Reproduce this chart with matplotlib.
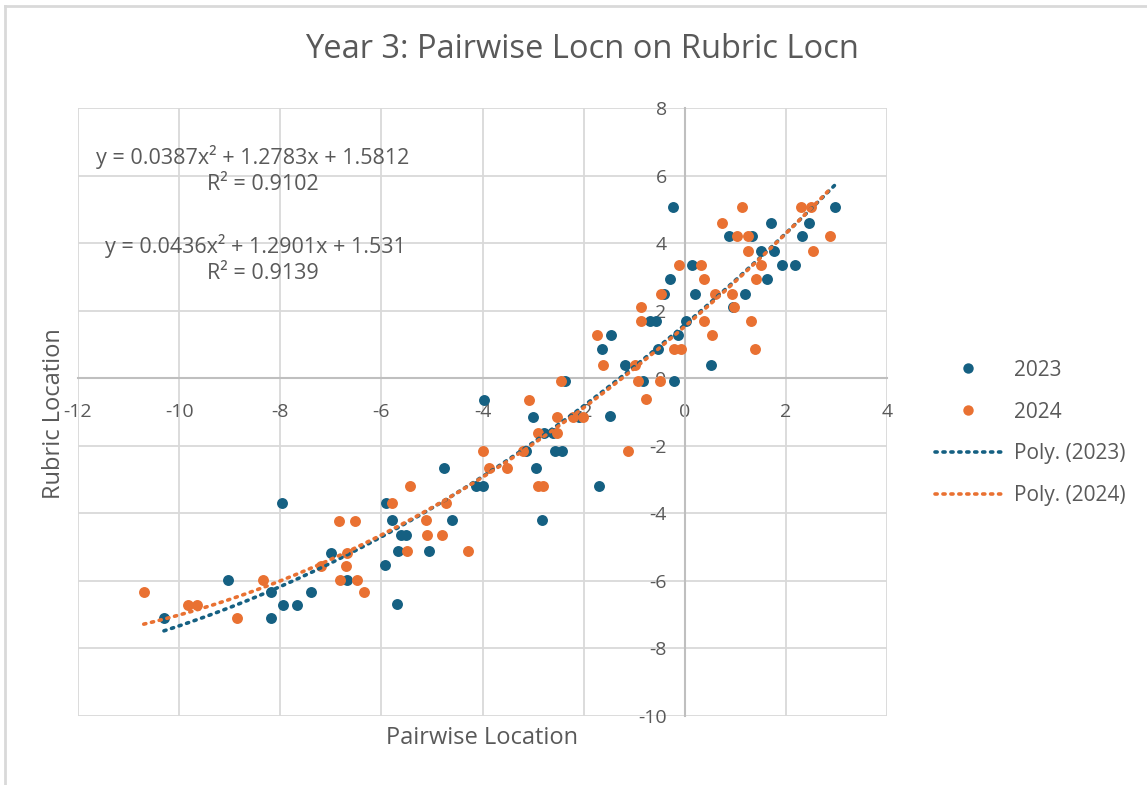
import numpy as np
import matplotlib.pyplot as plt
from matplotlib.lines import Line2D

plt.rcParams['font.family'] = ['Open Sans', 'DejaVu Sans']
plt.rcParams['axes.unicode_minus'] = False

# 2023 points (pairwise location, rubric location)
x_2023 = [-0.23, 1.70, 0.87, 1.33, 2.45, 2.97, 2.31, 1.51, 1.77, 1.92, 2.18, 1.62,
          0.14, -0.30, -0.41, 0.20, 1.20, 0.95, -0.68, -0.56, 0.02, -1.46, -1.64,
          -0.52, -0.14, -1.19, 0.51, -0.22, -0.83, -2.36, -1.48, -3.97, -3.01,
          -2.10, -2.79, -2.60, -3.14, -2.56, -2.42, -4.77, -2.94, -4.13, -4.00,
          -1.70, -5.90, -5.78, -4.60, -2.82, -5.62, -5.52, -5.67, -5.05, -5.93,
          -5.70, -7.97, -7.00, -9.03, -8.19, -7.40, -6.68, -7.94, -7.66, -10.30, -8.19]
y_2023 = [5.07, 4.61, 4.20, 4.20, 4.61, 5.07, 4.20, 3.76, 3.76, 3.34, 3.34, 2.93,
          3.34, 2.93, 2.50, 2.50, 2.50, 2.11, 1.70, 1.70, 1.70, 1.28, 0.86,
          0.86, 1.28, 0.40, 0.40, -0.09, -0.09, -0.09, -1.12, -0.63, -1.14,
          -1.14, -1.63, -1.63, -2.15, -2.15, -2.15, -2.66, -2.66, -3.20, -3.20,
          -3.20, -3.70, -4.21, -4.21, -4.20, -4.65, -4.65, -5.12, -5.12, -5.52,
          -6.67, -3.70, -5.16, -5.96, -6.34, -6.34, -5.96, -6.71, -6.71, -7.09, -7.09]

# 2024 points
x_2024 = [1.13, 2.30, 2.49, 0.73, 1.03, 1.25, 2.87, 1.25, 2.54, 1.51, -0.11, 0.33,
          0.39, 1.41, -0.47, 0.59, 0.94, 0.98, -0.87, -0.87, 0.39, 1.32, -1.74,
          0.54, -0.21, -0.08, 1.38, -1.62, -0.98, -0.92, -0.49, -0.77, -2.45,
          -2.21, -2.02, -3.09, -2.53, -2.91, -2.52, -3.19, -4.00, -1.12, -3.88,
          -3.52, -5.43, -2.91, -2.81, -5.78, -4.73, -5.11, -5.09, -4.80, -5.50,
          -4.29, -6.83, -6.53, -6.68, -7.19, -6.70, -6.81, -6.49, -8.34, -6.34,
          -10.70, -9.82, -9.64, -8.85]
y_2024 = [5.07, 5.07, 5.07, 4.61, 4.20, 4.20, 4.20, 3.76, 3.76, 3.34, 3.34, 3.34,
          2.93, 2.93, 2.50, 2.50, 2.50, 2.11, 2.11, 1.70, 1.70, 1.70, 1.28,
          1.28, 0.86, 0.86, 0.86, 0.40, 0.40, -0.09, -0.09, -0.62, -0.09,
          -1.14, -1.14, -0.63, -1.14, -1.63, -1.63, -2.15, -2.15, -2.15, -2.66,
          -2.66, -3.20, -3.20, -3.20, -3.70, -3.70, -4.21, -4.65, -4.65, -5.12,
          -5.12, -4.22, -4.22, -5.16, -5.56, -5.56, -5.96, -5.96, -5.96, -6.32,
          -6.34, -6.71, -6.71, -7.09]

# trendline coefficients from the chart labels (a, b, c)
poly_2023 = [0.0387, 1.2783, 1.5812]
poly_2024 = [0.0436, 1.2901, 1.531]
r2_2023 = 0.9102
r2_2024 = 0.9139

blue = '#156082'
orange = '#E97132'
grey_txt = '#595959'
dots = (0, (0.6, 1.6))

fig = plt.figure(figsize=(11.47, 7.85), dpi=100)
ax = fig.add_axes([78 / 1147, 1 - 716 / 785, (887 - 78) / 1147, (716 - 108) / 785])

ax.scatter(x_2023, y_2023, s=62, color=blue, zorder=3, linewidths=0)
ax.scatter(x_2024, y_2024, s=62, color=orange, zorder=3, linewidths=0)

# polynomial trendlines over each series' range
xs = np.linspace(min(x_2023), max(x_2023), 200)
ax.plot(xs, np.polyval(poly_2023, xs), color=blue, lw=2.6,
        linestyle=dots, dash_capstyle='round', zorder=4)
xs = np.linspace(min(x_2024), max(x_2024), 200)
ax.plot(xs, np.polyval(poly_2024, xs), color=orange, lw=2.6,
        linestyle=dots, dash_capstyle='round', zorder=4)

ax.set_xlim(-12, 4)
ax.set_ylim(-10, 8)
ax.set_xticks(np.arange(-12, 5, 2))
ax.set_yticks(np.arange(-10, 9, 2))
ax.grid(True, color='#d9d9d9', lw=1.3, zorder=0)
ax.set_axisbelow(True)

for s in ['top', 'right']:
    ax.spines[s].set_visible(False)
ax.spines['left'].set_position(('data', 0))
ax.spines['bottom'].set_position(('data', 0))
for s in ['left', 'bottom']:
    ax.spines[s].set_color('#bfbfbf')
    ax.spines[s].set_linewidth(1.5)
    ax.spines[s].set_zorder(1)

ax.tick_params(axis='x', length=0, pad=18, labelsize=14, labelcolor=grey_txt)
ax.tick_params(axis='y', length=0, pad=13, labelsize=14, labelcolor=grey_txt)

def fmt_eq(c):
    return 'y = {}x² + {}x + {}'.format(c[0], c[1], c[2])

ax.text(-8.54, 6.54, fmt_eq(poly_2023), ha='center', va='center', fontsize=15.5, color=grey_txt)
ax.text(-8.35, 5.74, 'R² = {}'.format(r2_2023), ha='center', va='center', fontsize=15.5, color=grey_txt)
ax.text(-8.5, 3.9, fmt_eq(poly_2024), ha='center', va='center', fontsize=15.5, color=grey_txt)
ax.text(-8.35, 3.1, 'R² = {}'.format(r2_2024), ha='center', va='center', fontsize=15.5, color=grey_txt)

ax.text(0.5, -0.036, 'Pairwise Location', transform=ax.transAxes, ha='center', va='center',
        fontsize=17, color=grey_txt)
ax.text(-0.03, 0.498, 'Rubric Location', transform=ax.transAxes, ha='center', va='center',
        rotation=90, fontsize=17, color=grey_txt)

fig.text(582 / 1147, 1 - 50 / 785, 'Year 3: Pairwise Locn on Rubric Locn', ha='center', va='center',
         fontsize=23.5, color=grey_txt)

handles = [
    Line2D([], [], marker='o', ls='none', color=blue, markersize=7.5, markeredgewidth=0),
    Line2D([], [], marker='o', ls='none', color=orange, markersize=7.5, markeredgewidth=0),
    Line2D([], [], color=blue, lw=2.6, linestyle=dots, dash_capstyle='round'),
    Line2D([], [], color=orange, lw=2.6, linestyle=dots, dash_capstyle='round'),
]
labels = ['2023', '2024', 'Poly. (2023)', 'Poly. (2024)']
leg = fig.legend(handles, labels, loc='center left', bbox_to_anchor=(935 / 1147, 1 - 433 / 785),
                 frameon=False, fontsize=15, handlelength=3.2, handletextpad=0.6,
                 labelspacing=1.0, borderpad=0, borderaxespad=0)
for t in leg.get_texts():
    t.set_color(grey_txt)

# chart area border (top and left visible)
fig.add_artist(Line2D([5 / 1147, 1], [1 - 6 / 785, 1 - 6 / 785], color='#d9d9d9', lw=2,
                      transform=fig.transFigure))
fig.add_artist(Line2D([5 / 1147, 5 / 1147], [0, 1 - 6 / 785], color='#d9d9d9', lw=2,
                      transform=fig.transFigure))

fig.savefig('out.png', dpi=100)
